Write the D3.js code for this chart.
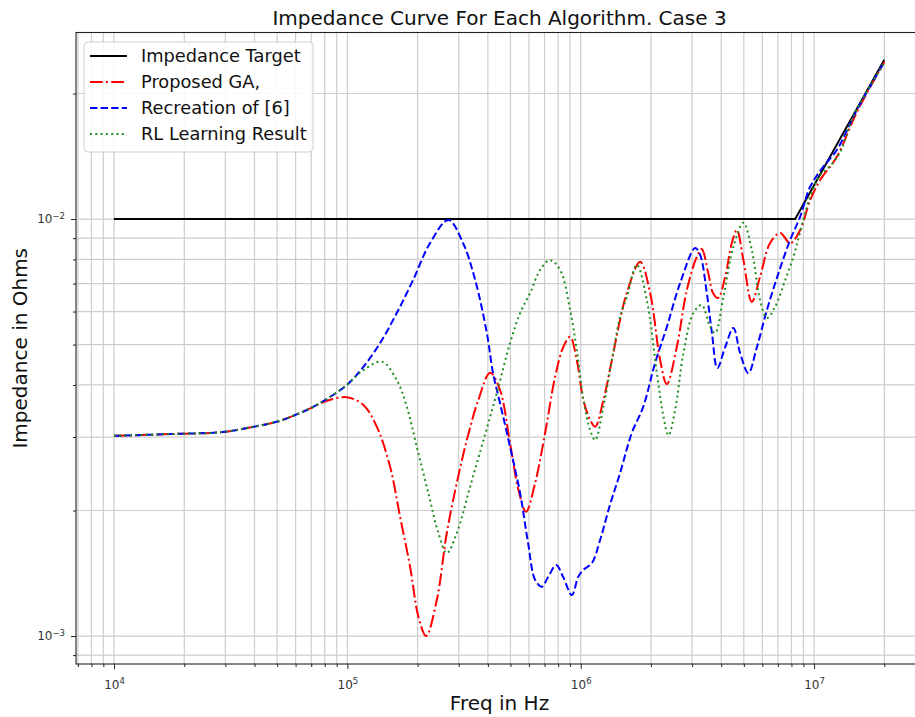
<!DOCTYPE html>
<html>
<head>
<meta charset="utf-8">
<script src="https://cdn.jsdelivr.net/npm/d3@7"></script>
<style>
  body { margin: 0; background: #fff; }
  svg { display: block; font-family: "DejaVu Sans", sans-serif; }
</style>
</head>
<body>
<svg id="chart" width="915" height="717"></svg>
<script>
// Impedance magnitude |Z| (ohms) against frequency (Hz), one [freq, |Z|] pair per point.
const targetCurve = [[1e4, 0.01], [8.3e6, 0.01], [2e7, 0.0241]];

const gaCurve = [
  [1e4, 3.02e-3], [1.74e4, 3.05e-3], [2.93e4, 3.085e-3], [3.98e4, 3.177e-3], [4.98e4, 3.265e-3],
  [5.97e4, 3.388e-3], [6.97e4, 3.52e-3], [8.02e4, 3.65e-3], [9.94e4, 3.74e-3], [1.171e5, 3.58e-3],
  [1.337e5, 3.177e-3], [1.524e5, 2.547e-3], [1.682e5, 1.932e-3], [1.857e5, 1.466e-3], [2.016e5, 1.112e-3],
  [2.175e5, 1.0e-3], [2.416e5, 1.22e-3], [2.667e5, 1.766e-3], [2.944e5, 2.33e-3], [3.25e5, 2.95e-3],
  [3.64e5, 3.68e-3], [4.09e5, 4.28e-3], [4.51e5, 3.89e-3], [4.98e5, 2.9e-3], [5.41e5, 2.24e-3],
  [5.83e5, 1.987e-3], [6.38e5, 2.33e-3], [7.04e5, 3.07e-3], [7.77e5, 4.19e-3], [8.43e5, 4.94e-3],
  [9.01e5, 5.22e-3], [9.62e5, 4.59e-3], [1.027e6, 3.68e-3], [1.097e6, 3.3e-3], [1.153e6, 3.177e-3],
  [1.251e6, 3.68e-3], [1.36e6, 4.59e-3], [1.475e6, 5.73e-3], [1.576e6, 6.65e-3], [1.797e6, 7.9e-3],
  [1.984e6, 6.65e-3], [2.189e6, 4.59e-3], [2.339e6, 4.02e-3], [2.582e6, 4.94e-3], [2.85e6, 6.76e-3],
  [3.145e6, 8.12e-3], [3.3e6, 8.47e-3], [3.52e6, 7.42e-3], [3.69e6, 6.65e-3], [3.88e6, 6.47e-3],
  [4.16e6, 7.27e-3], [4.44e6, 8.76e-3], [4.67e6, 9.41e-3], [4.98e6, 7.97e-3], [5.41e6, 6.33e-3],
  [5.87e6, 7.27e-3], [6.48e6, 8.76e-3], [7.16e6, 9.26e-3], [7.9e6, 8.75e-3], [8.72e6, 9.41e-3],
  [9.62e6, 1.11e-2], [1.062e7, 1.24e-2], [1.252e7, 1.41e-2], [1.526e7, 1.806e-2], [2e7, 2.38e-2]
];

const refCurve = [
  [1e4, 3.02e-3], [1.74e4, 3.05e-3], [2.93e4, 3.085e-3], [3.98e4, 3.177e-3], [4.98e4, 3.265e-3],
  [5.97e4, 3.388e-3], [6.97e4, 3.522e-3], [8.02e4, 3.68e-3], [9.94e4, 4.0e-3], [1.171e5, 4.42e-3],
  [1.38e5, 5.04e-3], [1.628e5, 5.95e-3], [1.912e5, 7.14e-3], [2.262e5, 8.76e-3], [2.71e5, 9.95e-3],
  [3.13e5, 8.76e-3], [3.53e5, 7.14e-3], [3.96e5, 5.33e-3], [4.21e5, 4.27e-3], [4.51e5, 3.62e-3],
  [4.98e5, 2.84e-3], [5.5e5, 2.2e-3], [5.95e5, 1.67e-3], [6.38e5, 1.362e-3], [6.81e5, 1.313e-3],
  [7.25e5, 1.385e-3], [7.85e5, 1.48e-3], [8.41e5, 1.385e-3], [9.16e5, 1.254e-3], [9.75e5, 1.385e-3],
  [1.024e6, 1.44e-3], [1.116e6, 1.496e-3], [1.211e6, 1.7e-3], [1.337e6, 2.07e-3], [1.475e6, 2.46e-3],
  [1.656e6, 3.07e-3], [1.851e6, 3.54e-3], [2.084e6, 4.52e-3], [2.339e6, 5.51e-3], [2.667e6, 7.02e-3],
  [3.094e6, 8.52e-3], [3.25e6, 8.2e-3], [3.47e6, 6.65e-3], [3.65e6, 5.33e-3], [3.85e6, 4.39e-3],
  [4.16e6, 4.93e-3], [4.51e6, 5.48e-3], [4.82e6, 4.77e-3], [5.23e6, 4.27e-3], [5.69e6, 4.93e-3],
  [6.28e6, 6.05e-3], [7.04e6, 7.42e-3], [7.9e6, 8.91e-3], [8.72e6, 1.013e-2], [9.62e6, 1.195e-2],
  [1.094e7, 1.334e-2], [1.252e7, 1.464e-2], [1.526e7, 1.826e-2], [2e7, 2.38e-2]
];

const rlCurve = [
  [1e4, 3.02e-3], [1.74e4, 3.05e-3], [2.93e4, 3.085e-3], [3.98e4, 3.177e-3], [4.98e4, 3.265e-3],
  [5.97e4, 3.388e-3], [6.97e4, 3.522e-3], [8.02e4, 3.68e-3], [9.94e4, 4.0e-3], [1.171e5, 4.34e-3],
  [1.404e5, 4.55e-3], [1.628e5, 4.11e-3], [1.797e5, 3.55e-3], [1.984e5, 2.84e-3], [2.224e5, 2.2e-3],
  [2.455e5, 1.766e-3], [2.667e5, 1.58e-3], [2.944e5, 1.766e-3], [3.357e5, 2.28e-3], [3.83e5, 2.95e-3],
  [4.37e5, 3.83e-3], [4.98e5, 5.04e-3], [5.5e5, 5.95e-3], [6.07e5, 6.65e-3], [6.7e5, 7.55e-3],
  [7.39e5, 7.97e-3], [8.16e5, 7.55e-3], [9.01e5, 6.05e-3], [9.62e5, 4.85e-3], [1.027e6, 3.68e-3],
  [1.097e6, 3.12e-3], [1.153e6, 2.95e-3], [1.251e6, 3.55e-3], [1.36e6, 4.59e-3], [1.475e6, 5.83e-3],
  [1.576e6, 6.51e-3], [1.74e6, 7.76e-3], [1.92e6, 6.39e-3], [2.12e6, 4.27e-3], [2.262e6, 3.36e-3],
  [2.376e6, 3.03e-3], [2.538e6, 3.48e-3], [2.755e6, 4.77e-3], [3.04e6, 5.95e-3], [3.3e6, 6.22e-3],
  [3.585e6, 5.52e-3], [3.77e6, 5.33e-3], [4.09e6, 6.51e-3], [4.51e6, 8.58e-3], [4.98e6, 9.8e-3],
  [5.41e6, 8.43e-3], [5.87e6, 6.39e-3], [6.28e6, 5.79e-3], [6.81e6, 6.16e-3], [7.52e6, 7.14e-3],
  [8.16e6, 8.12e-3], [8.72e6, 9.31e-3], [9.62e6, 1.131e-2], [1.062e7, 1.275e-2], [1.172e7, 1.34e-2],
  [1.294e7, 1.448e-2], [1.471e7, 1.759e-2], [2e7, 2.37e-2]
];

const seriesNames = ["Impedance Target", "Proposed GA,", "Recreation of [6]", "RL Learning Result"];
const seriesColors = ["#000000", "#ff0000", "#0000ff", "#1f8f1f"];
const seriesDashes = [null, "12.8,3.2,2,3.2", "7.4,3.2", "2,3.3"];

const xMajorTicks = [1e4, 1e5, 1e6, 1e7];
const xMajorExp = ["4", "5", "6", "7"];
const yMajorTicks = [1e-3, 1e-2];
const yMajorExp = ["\u22123", "\u22122"];

const titleText = "Impedance Curve For Each Algorithm. Case 3";
const xLabelText = "Freq in Hz";
const yLabelText = "Impedance in Ohms";

// ---- layout ----
const plot = { left: 76, right: 923, top: 32.5, bottom: 664 };
const svg = d3.select("#chart");

const x = d3.scaleLog().domain([6871, 2.93e7]).range([plot.left, plot.right]);
const y = d3.scaleLog().domain([8.569e-4, 2.801e-2]).range([plot.bottom, plot.top]);

function minorTicks(scale) {
  const [a, b] = scale.domain();
  const out = [];
  for (let e = Math.floor(Math.log10(a)); e <= Math.ceil(Math.log10(b)); e++) {
    for (let m = 2; m <= 9; m++) {
      const v = m * Math.pow(10, e);
      if (v > a && v < b) out.push(v);
    }
  }
  return out;
}
const xMinor = minorTicks(x);
const yMinor = minorTicks(y);

svg.append("defs").append("clipPath").attr("id", "plotClip")
  .append("rect").attr("x", plot.left).attr("y", plot.top)
  .attr("width", plot.right - plot.left).attr("height", plot.bottom - plot.top);

// grid (major and minor)
const grid = svg.append("g").attr("stroke", "#cdcdcd").attr("stroke-width", 1.2);
grid.selectAll("line.vx").data(xMajorTicks.concat(xMinor)).join("line")
  .attr("x1", d => x(d)).attr("x2", d => x(d))
  .attr("y1", plot.top).attr("y2", plot.bottom);
grid.selectAll("line.hy").data(yMajorTicks.concat(yMinor)).join("line")
  .attr("y1", d => y(d)).attr("y2", d => y(d))
  .attr("x1", plot.left).attr("x2", plot.right);

// curves
const line = d3.line().x(d => x(d[0])).y(d => y(d[1]));
const curves = [targetCurve, gaCurve, refCurve, rlCurve];
const lines = svg.append("g").attr("clip-path", "url(#plotClip)");
curves.forEach((c, i) => {
  lines.append("path")
    .attr("d", line.curve(i === 0 ? d3.curveLinear : d3.curveCatmullRom.alpha(0.5))(c))
    .attr("fill", "none")
    .attr("stroke", seriesColors[i])
    .attr("stroke-width", i === 0 ? 1.9 : 2)
    .attr("stroke-dasharray", seriesDashes[i]);
});

// spines
svg.append("rect").attr("x", plot.left).attr("y", plot.top)
  .attr("width", plot.right - plot.left).attr("height", plot.bottom - plot.top)
  .attr("fill", "none").attr("stroke", "#222").attr("stroke-width", 1.1);

// axes
function supLabels(sel, exps) {
  sel.selectAll(".tick text").each(function (d, i) {
    const t = d3.select(this);
    t.text(null);
    t.append("tspan").text("10");
    t.append("tspan").attr("dy", "-0.5em").attr("font-size", "8.5px").text(exps[i]);
  });
}

const xAxisG = svg.append("g").attr("transform", `translate(0,${plot.bottom})`)
  .call(d3.axisBottom(x).tickValues(xMajorTicks).tickSize(5).tickPadding(7).tickFormat(() => ""));
const xMinorG = svg.append("g").attr("transform", `translate(0,${plot.bottom})`)
  .call(d3.axisBottom(x).tickValues(xMinor).tickSize(3).tickFormat(() => ""));
const yAxisG = svg.append("g").attr("transform", `translate(${plot.left},0)`)
  .call(d3.axisLeft(y).tickValues(yMajorTicks).tickSize(5).tickPadding(6).tickFormat(() => ""));
const yMinorG = svg.append("g").attr("transform", `translate(${plot.left},0)`)
  .call(d3.axisLeft(y).tickValues(yMinor).tickSize(3).tickFormat(() => ""));

[xAxisG, xMinorG, yAxisG, yMinorG].forEach(g => {
  g.select(".domain").remove();
  g.selectAll(".tick line").attr("stroke", "#222").attr("stroke-width", 1);
  g.selectAll(".tick text").attr("fill", "#333").attr("font-size", "12px")
    .attr("font-family", "DejaVu Sans, sans-serif");
});
supLabels(xAxisG, xMajorExp);
supLabels(yAxisG, yMajorExp);
xAxisG.selectAll(".tick text").attr("dy", "1.05em");

// title and axis labels
svg.append("text").attr("x", (plot.left + plot.right) / 2).attr("y", 25)
  .attr("text-anchor", "middle").attr("font-size", "20px").attr("fill", "#111").text(titleText);
svg.append("text").attr("x", (plot.left + plot.right) / 2).attr("y", 710)
  .attr("text-anchor", "middle").attr("font-size", "20px").attr("fill", "#111").text(xLabelText);
svg.append("text")
  .attr("transform", `translate(27,${(plot.top + plot.bottom) / 2}) rotate(-90)`)
  .attr("text-anchor", "middle").attr("font-size", "20px").attr("fill", "#111").text(yLabelText);

// legend
const legend = svg.append("g");
legend.append("rect").attr("x", 84).attr("y", 42).attr("width", 229).attr("height", 110)
  .attr("rx", 4).attr("fill", "#fff").attr("fill-opacity", 0.85)
  .attr("stroke", "#d0d0d0").attr("stroke-width", 1);
seriesNames.forEach((name, i) => {
  const cy = 56 + i * 26;
  legend.append("line").attr("x1", 90).attr("x2", 127).attr("y1", cy).attr("y2", cy)
    .attr("stroke", seriesColors[i]).attr("stroke-width", i === 0 ? 1.9 : 2)
    .attr("stroke-dasharray", seriesDashes[i]);
  legend.append("text").attr("x", 141).attr("y", cy).attr("dy", "0.35em")
    .attr("font-size", "17.8px").attr("fill", "#111").text(name);
});
</script>
</body>
</html>
